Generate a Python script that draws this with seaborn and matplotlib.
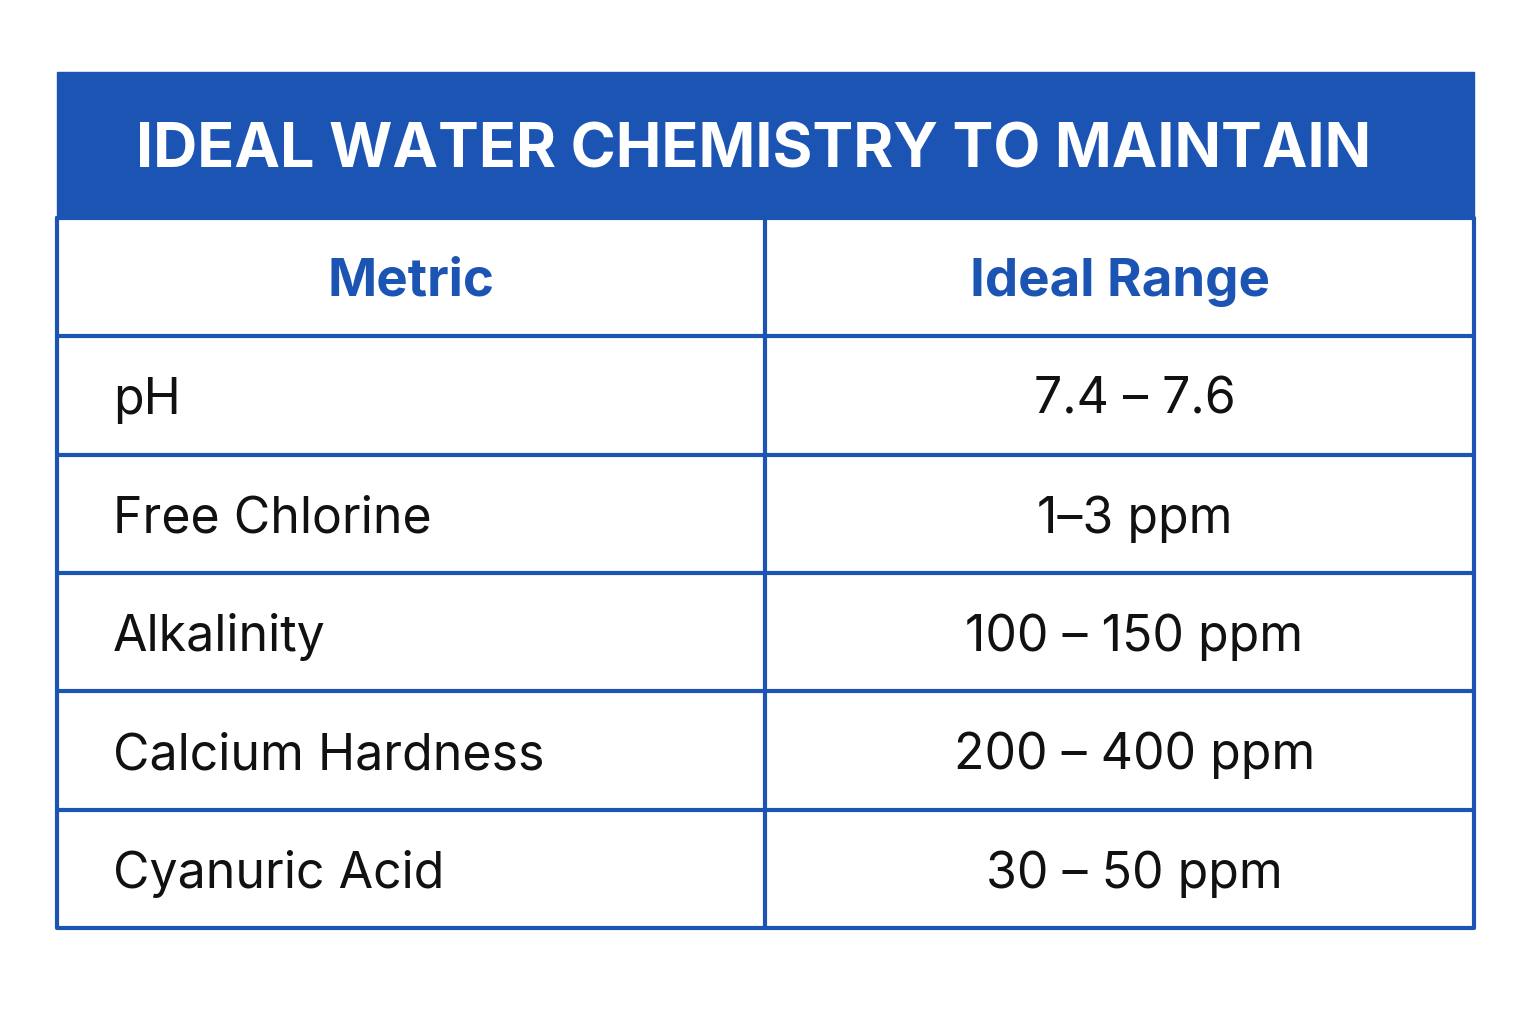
import matplotlib
matplotlib.use("Agg")
import matplotlib.pyplot as plt
import seaborn as sns

title = "IDEAL WATER CHEMISTRY TO MAINTAIN"
col_headers = ["Metric", "Ideal Range"]
metrics = ["pH", "Free Chlorine", "Alkalinity", "Calcium Hardness", "Cyanuric Acid"]
ranges = ["7.4 – 7.6", "1–3 ppm", "100 – 150 ppm", "200 – 400 ppm", "30 – 50 ppm"]

sns.set_style("white")
BLUE = "#1c54b4"
fig = plt.figure(figsize=(15.36, 10.24), dpi=100)
ax = fig.add_axes([0, 0, 1, 1])
ax.set_xlim(0, 1536); ax.set_ylim(1024, 0); ax.axis("off")

L, R, M = 57, 1474, 765
top, band_bot = 72, 218
rh = (928 - band_bot) / (len(metrics) + 1)

ax.add_patch(plt.Rectangle((L, top), R - L, band_bot - top, color=BLUE, zorder=1))
ax.text((L + R) / 2 - 12, (top + band_bot) / 2 + 7, title, color="white", fontsize=44,
        fontweight="bold", family="Inter", ha="center", va="center")

bottom = band_bot + rh * (len(metrics) + 1)
lw = 3
ax.plot([L, R, R, L, L], [band_bot, band_bot, bottom, bottom, band_bot], color=BLUE, lw=lw)
ax.plot([M, M], [band_bot, bottom], color=BLUE, lw=lw)
for i in range(1, len(metrics) + 1):
    y = band_bot + rh * i
    ax.plot([L, R], [y, y], color=BLUE, lw=lw)

yh = band_bot + rh / 2 + 5
ax.text((L + M) / 2, yh, col_headers[0], color=BLUE, fontsize=38, fontweight="bold",
        family="Inter", ha="center", va="center")
ax.text((M + R) / 2, yh, col_headers[1], color=BLUE, fontsize=38, fontweight="bold",
        family="Inter", ha="center", va="center")
for i, (m, r) in enumerate(zip(metrics, ranges)):
    y = band_bot + rh * (i + 1.5) + 5
    ax.text(113, y, m, color="#111111", fontsize=36, family="Inter", ha="left", va="center")
    ax.text((M + R) / 2 + 15, y, r, color="#111111", fontsize=36, family="Inter",
            ha="center", va="center")

fig.savefig("out.png", dpi=100, facecolor="white")
